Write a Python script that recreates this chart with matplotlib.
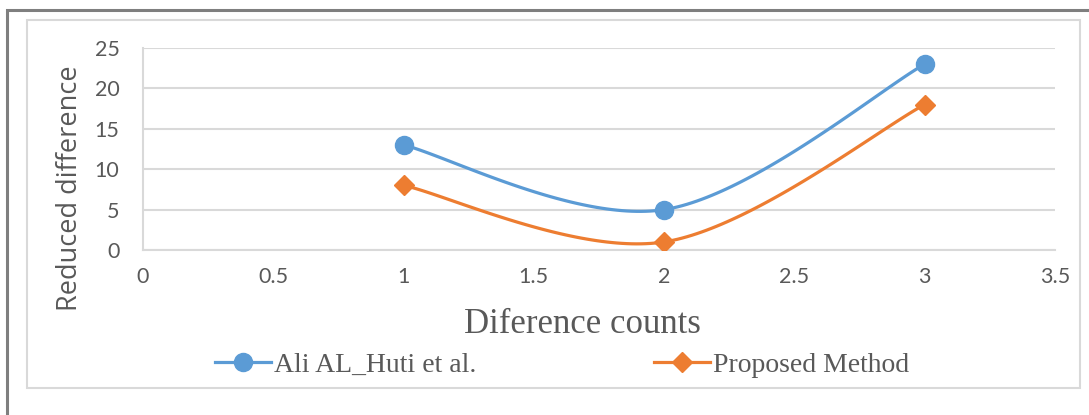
import numpy as np
import matplotlib
matplotlib.use("Agg")
import matplotlib.pyplot as plt
from matplotlib.patches import Rectangle

# data
counts = [1, 2, 3]
ali_huti = [13, 5, 23]
proposed = [8, 1, 18]
series_names = ["Ali AL_Huti et al.", "Proposed Method"]
x_ticks = [0, 0.5, 1, 1.5, 2, 2.5, 3, 3.5]
y_ticks = [0, 5, 10, 15, 20, 25]

BLUE = "#5B9BD5"
ORANGE = "#ED7D31"
GRID = "#D9D9D9"
TXT = "#595959"


def smooth(xs, ys, n=60):
    # excel-like smoothed line: bezier through points, catmull-rom tangents
    p = np.column_stack([xs, ys]).astype(float)
    ext = np.vstack([p[0], p, p[-1]])
    out = []
    for i in range(len(p) - 1):
        p0, p1, p2, p3 = ext[i], ext[i + 1], ext[i + 2], ext[i + 3]
        c1 = p1 + (p2 - p0) / 6.0
        c2 = p2 - (p3 - p1) / 6.0
        t = np.linspace(0, 1, n)[:, None]
        seg = ((1 - t) ** 3) * p1 + 3 * ((1 - t) ** 2) * t * c1 + 3 * (1 - t) * t ** 2 * c2 + t ** 3 * p2
        out.append(seg)
    out = np.vstack(out)
    return out[:, 0], out[:, 1]


fig = plt.figure(figsize=(10.89, 4.15), dpi=100)

# outer borders
fig.patches.append(Rectangle((7 / 1089, -0.1), 1.2, (415 - 10) / 415 + 0.1,
                             transform=fig.transFigure, fill=False,
                             edgecolor="#7F7F7F", linewidth=2.2))
fig.patches.append(Rectangle((27 / 1089, 1 - 388 / 415), (1080 - 27) / 1089, (388 - 20) / 415,
                             transform=fig.transFigure, fill=False,
                             edgecolor=GRID, linewidth=1.5))

ax = fig.add_axes([143 / 1089, 1 - 250 / 415, (1055 - 143) / 1089, (250 - 48) / 415])

sx, sy = smooth(counts, ali_huti)
ax.plot(sx, sy, color=BLUE, linewidth=2.3, solid_capstyle="round", zorder=3)
ax.plot(counts, ali_huti, linestyle="none", marker="o", markersize=13, color=BLUE, zorder=4)
sx, sy = smooth(counts, proposed)
ax.plot(sx, sy, color=ORANGE, linewidth=2.3, solid_capstyle="round", zorder=3)
ax.plot(counts, proposed, linestyle="none", marker="D", markersize=10, color=ORANGE, zorder=4)

ax.set_xlim(0, 3.5)
ax.set_ylim(0, 25)
ax.set_xticks(x_ticks)
ax.set_xticklabels([f"{v:g}" for v in x_ticks])
ax.set_yticks(y_ticks)
ax.yaxis.grid(True, color=GRID, linewidth=1.5)
ax.set_axisbelow(True)
for s in ["top", "right"]:
    ax.spines[s].set_visible(False)
for s in ["left", "bottom"]:
    ax.spines[s].set_color(GRID)
    ax.spines[s].set_linewidth(1.5)
ax.tick_params(length=0, labelsize=15.5, labelcolor=TXT, pad=12)
for lab in ax.get_xticklabels() + ax.get_yticklabels():
    lab.set_family("Lato")
ax.tick_params(axis="y", pad=17)

fig.text(70 / 1089, 1 - 188 / 415, "Reduced difference", rotation=90, ha="center", va="center",
         fontsize=19.5, color=TXT, family="Open Sans")
fig.text(582 / 1089, 1 - 324 / 415, "Diference counts", ha="center", va="center",
         fontsize=25, color=TXT, family="Liberation Serif")

h1, = ax.plot([], [], color=BLUE, linewidth=2.3, marker="o", markersize=13)
h2, = ax.plot([], [], color=ORANGE, linewidth=2.3, marker="D", markersize=10)
leg = fig.legend([h1, h2], series_names, loc="center", bbox_to_anchor=(562 / 1089, 1 - 365 / 415),
                 ncol=2, frameon=False, handlelength=2.0, handletextpad=0.12, columnspacing=6.4,
                 prop={"family": "Liberation Serif", "size": 20})
for t in leg.get_texts():
    t.set_color(TXT)

fig.savefig("out.png", dpi=100)
